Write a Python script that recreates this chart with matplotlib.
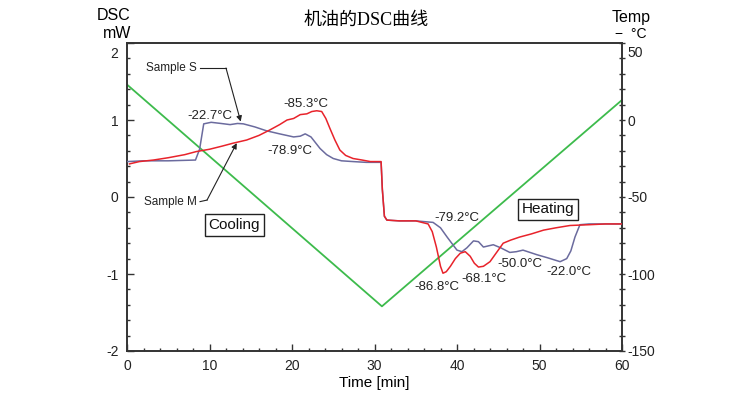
import matplotlib
matplotlib.use("Agg")
import matplotlib.pyplot as plt
from matplotlib.ticker import MultipleLocator

# ---- data ----
t_S = [0, 2, 5, 8.3, 8.8, 9.3, 10.2, 11.4, 12.5, 13.4, 14.1, 15.5, 16.9, 18.5, 20.2, 21.0,
       21.6, 22.3, 23.4, 24.2, 25.0, 26.0, 27.4, 29, 30.8, 30.95, 31.2, 31.5, 33, 35, 37.1,
       38.0, 38.8, 39.5, 40.0, 40.6, 41.2, 42.0, 42.6, 43.2, 44.4, 45.3, 46.4, 47.2, 48.0,
       49.7, 51.0, 52.5, 53.3, 53.8, 54.3, 54.9, 56, 58, 60]
dsc_S = [0.46, 0.47, 0.47, 0.48, 0.62, 0.95, 0.97, 0.955, 0.94, 0.955, 0.95, 0.91, 0.86, 0.82,
         0.78, 0.79, 0.82, 0.78, 0.63, 0.55, 0.50, 0.47, 0.46, 0.45, 0.45, 0.10, -0.25, -0.30,
         -0.31, -0.31, -0.33, -0.40, -0.52, -0.62, -0.69, -0.71, -0.66, -0.57, -0.58, -0.65,
         -0.62, -0.66, -0.72, -0.71, -0.69, -0.75, -0.79, -0.84, -0.80, -0.70, -0.52, -0.36,
         -0.35, -0.35, -0.35]

t_M = [0.3, 1.5, 3.2, 5, 7, 8.4, 10, 11.5, 12.9, 14.5, 16, 17.3, 18.5, 19.4, 20.2, 21.0, 21.8,
       22.4, 23.0, 23.6, 24.1, 24.6, 25.2, 25.8, 26.5, 27.4, 28.5, 29.5, 30.8, 30.95, 31.2, 31.5,
       33, 35, 36.5, 37.0, 37.5, 38.0, 38.3, 38.7, 39.2, 39.8, 40.4, 41.0, 41.6, 42.1, 42.6,
       43.2, 44.0, 44.8, 45.6, 46.5, 47.6, 49, 50.5, 52, 53.7, 56, 58, 60]
dsc_M = [0.43, 0.46, 0.48, 0.51, 0.55, 0.59, 0.62, 0.66, 0.70, 0.74, 0.80, 0.87, 0.94, 1.00,
         1.02, 1.07, 1.08, 1.11, 1.12, 1.11, 1.02, 0.89, 0.74, 0.61, 0.54, 0.50, 0.48, 0.46,
         0.46, 0.10, -0.25, -0.30, -0.31, -0.31, -0.35, -0.45, -0.65, -0.90, -0.99, -0.97,
         -0.90, -0.80, -0.73, -0.71, -0.77, -0.86, -0.91, -0.90, -0.84, -0.72, -0.60, -0.56,
         -0.52, -0.48, -0.43, -0.40, -0.37, -0.36, -0.35, -0.35]

t_temp = [0, 30.9, 60]
temp = [23, -121, 13]

peak_labels = ["-22.7°C", "-85.3°C", "-78.9°C", "-79.2°C", "-86.8°C", "-68.1°C", "-50.0°C", "-22.0°C"]
peak_t = [10.0, 21.7, 19.8, 40.0, 37.6, 43.3, 47.6, 53.6]
peak_dsc = [1.05, 1.21, 0.60, -0.27, -1.17, -1.065, -0.87, -0.98]

x_ticks = [0, 10, 20, 30, 40, 50, 60]
y_ticks = [-2, -1, 0, 1, 2]
y2_ticks = [-150, -100, -50, 0, 50]

# ---- styles ----
RED = "#e8232b"
PURPLE = "#6b6b9e"
GREEN = "#3dbb4c"
AX = "#333333"
TXT = "#222222"
plt.rcParams["font.family"] = ["Liberation Sans", "DejaVu Sans"]
plt.rcParams["axes.unicode_minus"] = False

fig = plt.figure(figsize=(7.56, 3.94), dpi=100)
ax = fig.add_axes([127 / 756, 1 - 351 / 394, 495 / 756, 308 / 394])
ax2 = ax.twinx()

ax.plot(t_S, dsc_S, color=PURPLE, lw=1.1, zorder=3)
ax.plot(t_M, dsc_M, color=RED, lw=1.1, zorder=4)
ax2.plot(t_temp, temp, color=GREEN, lw=1.3)

ax.set_xlim(0, 60)
ax.set_ylim(-2, 2)
ax2.set_ylim(-150, 50)
ax.set_zorder(ax2.get_zorder() + 1)
ax.patch.set_visible(False)

ax.set_xticks(x_ticks)
ax.set_yticks(y_ticks)
ax2.set_yticks(y2_ticks)
# top labels are drawn a little lower (as in the reference) to clear the unit headers
ax.set_yticklabels([str(v) for v in y_ticks[:-1]] + [""])
ax2.set_yticklabels([str(v) for v in y2_ticks[:-1]] + [""])
ax.text(-0.018, 0.965, str(y_ticks[-1]), transform=ax.transAxes, ha="right", va="center",
        fontsize=10, color=TXT)
ax2.text(1.011, 0.968, str(y2_ticks[-1]), transform=ax2.transAxes, ha="left", va="center",
         fontsize=10, color=TXT)

ax.xaxis.set_minor_locator(MultipleLocator(2))
ax.yaxis.set_minor_locator(MultipleLocator(0.2))
ax2.yaxis.set_minor_locator(MultipleLocator(10))

ax.tick_params(axis="both", which="major", direction="in", length=5, width=1, color=AX,
               labelsize=10, labelcolor=TXT)
ax.tick_params(axis="both", which="minor", direction="in", length=2.5, width=1, color=AX)
ax.tick_params(axis="x", which="major", pad=6)
ax.tick_params(axis="y", which="major", pad=6)
ax.tick_params(top=False, right=False, which="both")
ax2.tick_params(axis="y", which="both", direction="inout", length=4, width=1, color=AX,
                labelsize=10, labelcolor=TXT, pad=2)

for a in (ax, ax2):
    for s in a.spines.values():
        s.set_color(AX)
        s.set_linewidth(1.2)

ax.set_xlabel("Time [min]", fontsize=11, labelpad=2)

# axis headers
fig.text(131 / 756, 1 - 16 / 394, "DSC", ha="right", va="center", fontsize=11.5)
fig.text(131 / 756, 1 - 34 / 394, "mW", ha="right", va="center", fontsize=11.5)
fig.text(631 / 756, 1 - 17.5 / 394, "Temp", ha="center", va="center", fontsize=11.5)
fig.text(631 / 756, 1 - 34.5 / 394, "−  °C", ha="center", va="center", fontsize=10)

fig.text(366 / 756, 1 - 20 / 394, "机油的DSC曲线", ha="center", va="center", fontsize=13,
         family=["Liberation Serif", "Noto Sans CJK SC"])

for lab, tx, ty in zip(peak_labels, peak_t, peak_dsc):
    ax.text(tx, ty, lab, ha="center", va="center", fontsize=9.5, color=TXT, zorder=6)

for lab, tx, ty in [("Cooling", 13.0, -0.36), ("Heating", 51.0, -0.16)]:
    ax.text(tx, ty, lab, ha="center", va="center", fontsize=11, color="#111111", zorder=6,
            bbox=dict(boxstyle="square,pad=0.25", fc="white", ec=TXT, lw=1))

# Sample labels with leader arrows
ax.text(8.48, 1.675, "Sample S", ha="right", va="center", fontsize=8.5, color=TXT)
ax.plot([8.85, 12.0], [1.675, 1.675], color=TXT, lw=0.8)
ax.annotate("", xy=(13.78, 0.98), xytext=(12.0, 1.675),
            arrowprops=dict(arrowstyle="-|>", lw=0.8, color=TXT, mutation_scale=8,
                            shrinkA=0, shrinkB=0))
ax.text(8.48, -0.06, "Sample M", ha="right", va="center", fontsize=8.5, color=TXT)
ax.plot([8.85, 9.7], [-0.06, -0.04], color=TXT, lw=0.8)
ax.annotate("", xy=(13.3, 0.70), xytext=(9.7, -0.04),
            arrowprops=dict(arrowstyle="-|>", lw=0.8, color=TXT, mutation_scale=8,
                            shrinkA=0, shrinkB=0))

fig.savefig("out.png", dpi=100)
